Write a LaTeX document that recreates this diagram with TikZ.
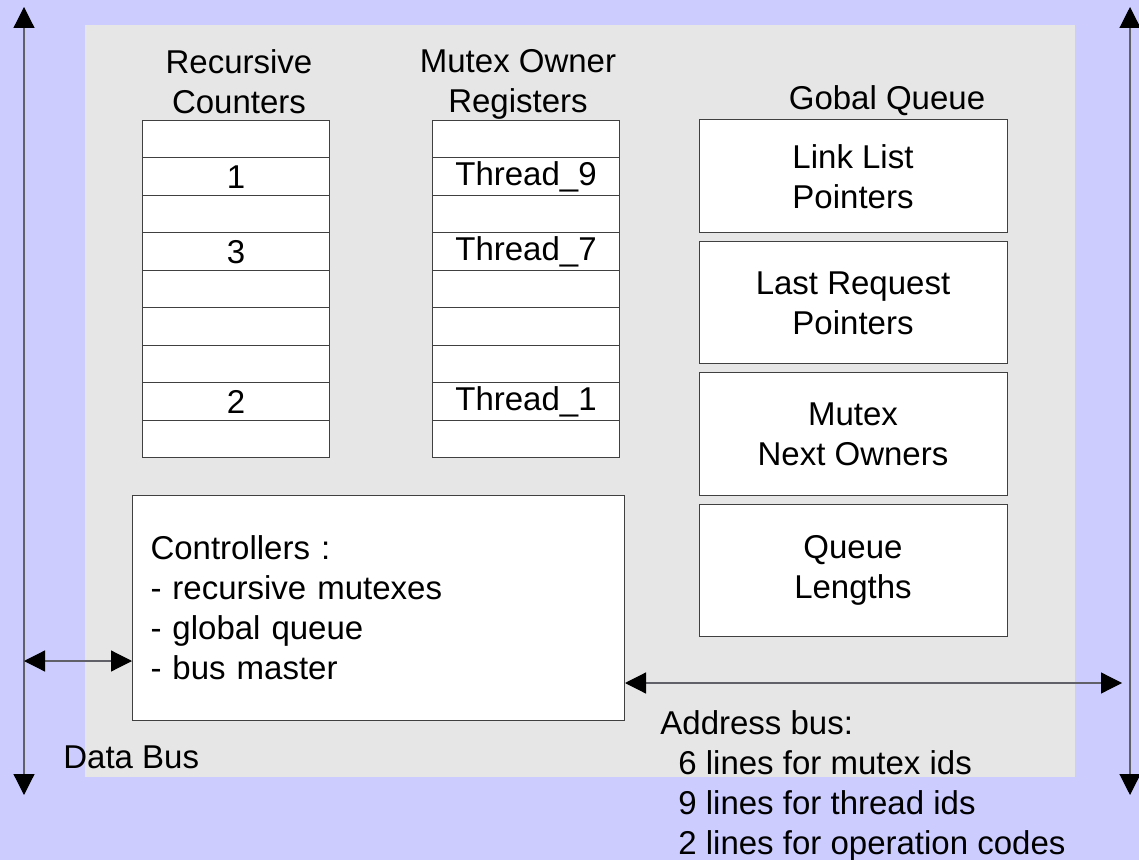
\documentclass[tikz,border=0pt]{standalone}
\usepackage{fontspec}
\setmainfont{Liberation Sans}
\usepackage{xcolor}
\usepackage{tikz}
\usetikzlibrary{arrows.meta}

\definecolor{bgblue}{HTML}{CCCCFF}
\definecolor{panel}{HTML}{E6E6E6}
\definecolor{edge}{HTML}{404040}
\definecolor{wire}{HTML}{606068}

\begin{document}
\begin{tikzpicture}[x=0.5pt, y=-0.5pt,
  txt/.style={font=\fontsize{16.5}{20}\selectfont, inner sep=0pt},
  cell/.style={txt, draw=edge, line width=0.5pt, fill=white, minimum width=93.5pt, minimum height=18.75pt, anchor=north west},
  qbox/.style={txt, draw=edge, line width=0.5pt, fill=white, align=center, minimum width=154pt},
  bus/.style={draw=wire, line width=0.6pt, >={Triangle[length=10.5pt,width=10.5pt,color=black]}, <->}
]
  \useasboundingbox (0,0) rectangle (1139,860);
  \fill[bgblue] (0,0) rectangle (1139,860);
  \fill[panel] (85,25) rectangle (1075,777);

  % tables
  \node[txt, align=center] (rch) at (239,81.5) {Recursive\\Counters};
  \node[txt, align=center] (moh) at (518,84) {Mutex Owner\\Registers};
  \foreach \v [count=\i from 0] in {{},1,{},3,{},{},{},2,{}}
    \node[cell] (rc\i) at (142,120+37.5*\i) {\v};
  \foreach \v [count=\i from 0] in {{},Thread\_9,{},Thread\_7,{},{},{},Thread\_1,{}}
    \node[cell] (mo\i) at (432,120+37.5*\i) {\v};

  % global queue
  \node[txt, anchor=base] (gqh) at (887,110) {Gobal Queue};
  \node[qbox, minimum height=56.5pt] (links) at (853,176.5) {Link List\\Pointers};
  \node[qbox, minimum height=61pt] (last) at (853,303) {Last Request\\Pointers};
  \node[qbox, minimum height=61pt] (next) at (853,434) {Mutex\\Next Owners};
  \node[qbox, minimum height=66pt] (qlen) at (853,570) {Queue\\Lengths};

  % controllers
  \node[txt, draw=edge, line width=0.5pt, fill=white, align=left, text width=228pt,
        inner xsep=9pt, minimum height=112.5pt, anchor=north west] (ctrl) at (132,495)
        {Controllers :\\- recursive mutexes\\- global queue\\- bus master};

  % buses
  \coordinate (dtop) at (24,7);
  \coordinate (dbot) at (24,795);
  \coordinate (dtap) at (24,661);
  \coordinate (atop) at (1130,7);
  \coordinate (abot) at (1130,795);
  \coordinate (atap) at (1122,683);
  \draw[bus] (dtop) -- (dbot);
  \draw[bus] (atop) -- (abot);
  \draw[bus] (dtap) -- (dtap -| ctrl.west);
  \draw[bus] (atap -| ctrl.east) -- (atap);
  \node[txt, anchor=base west] (dbus) at (63,768) {Data Bus};
  \node[txt, anchor=north west, align=left] (abus) at (660,710)
        {Address bus:\\\hspace*{9pt}6 lines for mutex ids\\\hspace*{9pt}9 lines for thread ids\\\hspace*{9pt}2 lines for operation codes};
\end{tikzpicture}
\end{document}
